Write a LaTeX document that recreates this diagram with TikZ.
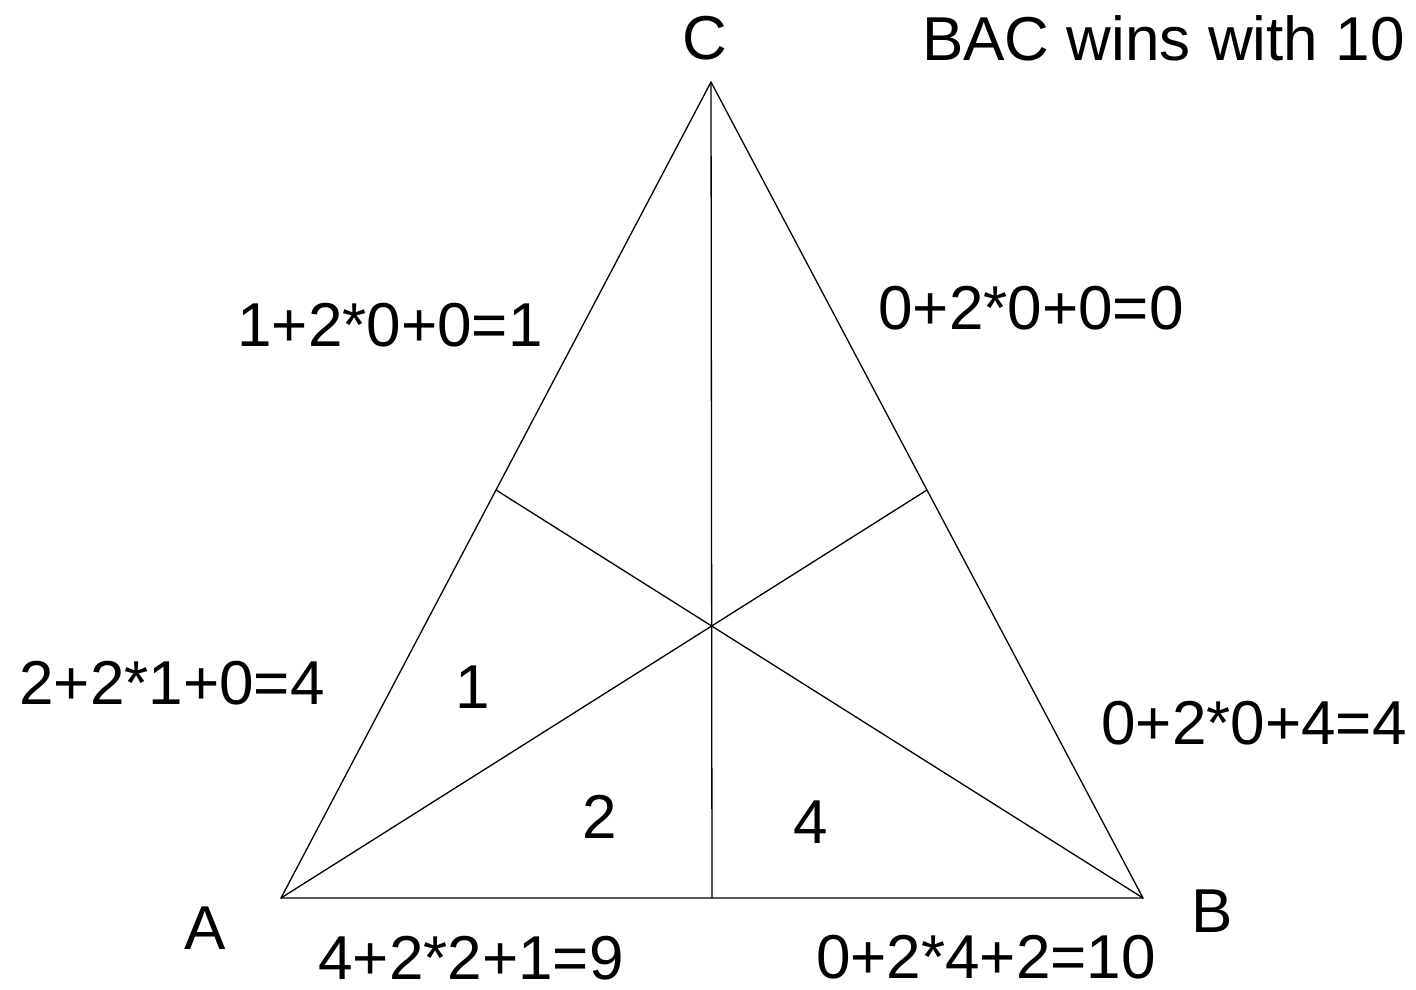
\documentclass[tikz,border=0pt]{standalone}
\usepackage{fontspec}
\setmainfont{Liberation Sans}
\usetikzlibrary{calc}
\begin{document}
\begin{tikzpicture}[x=1pt,y=-1pt,
  edge/.style={draw=black,line width=1.3pt,line join=miter},
  lbl/.style={inner sep=0pt,font=\fontsize{62}{72}\selectfont}]
\useasboundingbox (0,0) rectangle (1416,990);
\coordinate (A) at (281,898);
\coordinate (B) at (1143,898);
\coordinate (C) at (711,82);
\coordinate (mAB) at ($(A)!0.5!(B)$);
\coordinate (mBC) at ($(B)!0.5!(C)$);
\coordinate (mAC) at ($(A)!0.5!(C)$);
\draw[edge] (A) -- (B) -- (C) -- cycle;
\draw[edge] (A) -- (mBC);
\draw[edge] (B) -- (mAC);
\draw[edge] (C) -- (mAB);
\node[lbl] (lC) at (705,38) {C};
\node[lbl] (lA) at (205,928) {A};
\node[lbl] (lB) at (1212,911) {B};
\node[lbl,anchor=west] (title) at (922,38) {BAC wins with 10};
\node[lbl] (t1) at (390,325) {1+2*0+0=1};
\node[lbl] (t2) at (1031,308) {0+2*0+0=0};
\node[lbl] (t3) at (172,683) {2+2*1+0=4};
\node[lbl] (t4) at (1254,723) {0+2*0+4=4};
\node[lbl] (t5) at (471,958) {4+2*2+1=9};
\node[lbl] (t6) at (986,957) {0+2*4+2=10};
\node[lbl] (n1) at (473,687) {1};
\node[lbl] (n2) at (600,817) {2};
\node[lbl] (n4) at (811,822) {4};
\end{tikzpicture}
\end{document}
